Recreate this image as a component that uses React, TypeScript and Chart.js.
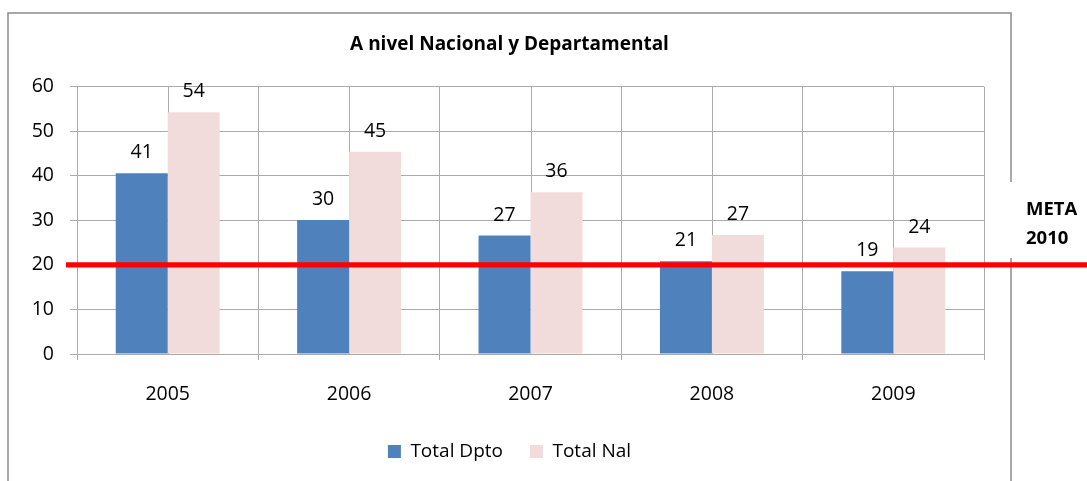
import React, { useEffect, useRef } from "react";
import { Chart, registerables } from "chart.js";

Chart.register(...registerables);

const categories = ["2005", "2006", "2007", "2008", "2009"];
const totalDpto = [40.6, 30.1, 26.6, 20.8, 18.6];
const totalNal = [54.3, 45.4, 36.3, 26.7, 23.9];
const seriesNames = ["Total Dpto", "Total Nal"];
const yTicks = [0, 10, 20, 30, 40, 50, 60];
const metaValue = 20;
const metaLabel = ["META", "2010"];
const titleText = "A nivel Nacional y Departamental";

const FONT = "'Open Sans', sans-serif";
const GRID = "#ababab";
const BLUE = "#4F81BD";
const PINK = "#F2DCDB";

const decorPlugin = {
  id: "decor",
  beforeDatasetsDraw(chart: any) {
    const { ctx, chartArea, scales } = chart;
    const xs = scales.x;
    ctx.save();
    ctx.strokeStyle = GRID;
    ctx.lineWidth = 1;
    for (let i = 0; i < categories.length; i++) {
      const px = Math.round(xs.getPixelForValue(i)) + 0.5;
      ctx.beginPath();
      ctx.moveTo(px, chartArea.top);
      ctx.lineTo(px, chartArea.bottom);
      ctx.stroke();
    }
    ctx.restore();
  },
  afterDatasetsDraw(chart: any) {
    const { ctx } = chart;
    ctx.save();
    ctx.fillStyle = "#000";
    ctx.font = `19.5px ${FONT}`;
    ctx.textAlign = "center";
    ctx.textBaseline = "alphabetic";
    chart.data.datasets.forEach((ds: any, di: number) => {
      const meta = chart.getDatasetMeta(di);
      meta.data.forEach((el: any, i: number) => {
        ctx.fillText(String(Math.round(ds.data[i])), el.x, el.y - 15);
      });
    });
    ctx.restore();
  },
  afterDraw(chart: any) {
    const { ctx, scales, width } = chart;
    ctx.save();
    // outer chart frame (with a gap on the right where the META box sits)
    ctx.strokeStyle = "#8c8c8c";
    ctx.lineWidth = 1.5;
    ctx.beginPath();
    ctx.moveTo(8, 500);
    ctx.lineTo(8, 13);
    ctx.lineTo(1011, 13);
    ctx.lineTo(1011, 182);
    ctx.moveTo(1011, 258);
    ctx.lineTo(1011, 500);
    ctx.stroke();
    // META text
    ctx.fillStyle = "#000";
    ctx.font = `bold 18.5px ${FONT}`;
    ctx.textAlign = "left";
    ctx.textBaseline = "alphabetic";
    ctx.fillText(metaLabel[0], 1026, 215);
    ctx.fillText(metaLabel[1], 1026, 244);
    // red goal line
    const y = scales.y.getPixelForValue(metaValue);
    ctx.strokeStyle = "#FF0000";
    ctx.lineWidth = 5.3;
    ctx.beginPath();
    ctx.moveTo(66, y);
    ctx.lineTo(width, y);
    ctx.stroke();
    ctx.restore();
  },
};

export default function App() {
  const ref = useRef<HTMLCanvasElement>(null);
  useEffect(() => {
    if (!ref.current) return;
    const chart = new Chart(ref.current, {
      type: "bar",
      data: {
        labels: categories,
        datasets: [
          {
            label: seriesNames[0],
            data: totalDpto,
            backgroundColor: BLUE,
            borderWidth: 0,
            barPercentage: 1,
            categoryPercentage: 0.573,
          },
          {
            label: seriesNames[1],
            data: totalNal,
            backgroundColor: PINK,
            borderWidth: 0,
            barPercentage: 1,
            categoryPercentage: 0.573,
          },
        ],
      },
      options: {
        responsive: false,
        maintainAspectRatio: false,
        animation: false,
        layout: { padding: { left: 8, right: 76, top: 13, bottom: 10 } },
        plugins: {
          title: {
            display: true,
            text: titleText,
            color: "#000",
            font: { family: FONT, size: 19, weight: "bold" },
            padding: { top: 20, bottom: 31 },
          },
          legend: {
            display: true,
            position: "bottom",
            labels: {
              color: "#000",
              font: { family: FONT, size: 19 },
              boxWidth: 13,
              boxHeight: 13,
              padding: 27,
            },
          },
          tooltip: { enabled: false },
        },
        scales: {
          x: {
            type: "category",
            grid: {
              color: GRID,
              offset: true,
              drawTicks: true,
              tickLength: 6,
              tickColor: GRID,
            },
            border: { color: GRID, width: 1 },
            ticks: {
              color: "#000",
              font: { family: FONT, size: 19.5 },
              padding: 23,
              maxRotation: 0,
            },
            afterFit: (s: any) => {
              s.height = 61;
            },
          },
          y: {
            type: "linear",
            min: 0,
            max: 60,
            afterBuildTicks: (s: any) => {
              s.ticks = yTicks.map((v) => ({ value: v }));
            },
            grid: { color: GRID, tickLength: 7, tickColor: GRID },
            border: { color: GRID, width: 1 },
            ticks: {
              color: "#000",
              font: { family: FONT, size: 19.5 },
              padding: 16,
            },
            afterFit: (s: any) => {
              s.width = 69;
            },
          },
          y2: {
            type: "linear",
            position: "right",
            display: true,
            min: 0,
            max: 60,
            grid: { display: false, drawTicks: false },
            border: { display: false },
            ticks: { display: false },
            afterFit: (s: any) => {
              s.width = 27;
            },
          },
        },
      },
      plugins: [decorPlugin],
    });
    return () => chart.destroy();
  }, []);
  return (
    <div style={{ position: "absolute", left: 0, top: 0, width: 1087, height: 481, background: "#fff" }}>
      <canvas ref={ref} width={1087} height={481} style={{ display: "block" }} />
    </div>
  );
}
